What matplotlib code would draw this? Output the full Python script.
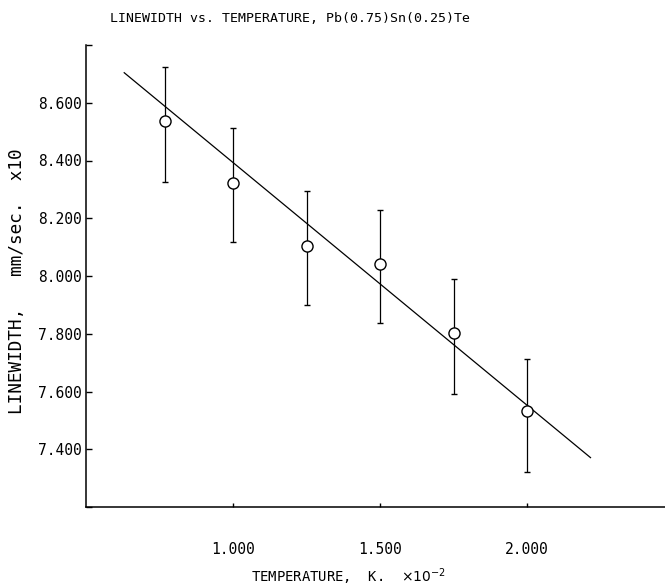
import matplotlib
matplotlib.use("Agg")
import matplotlib.pyplot as plt
import numpy as np

# ---- data ----
temperature = [0.77, 1.00, 1.25, 1.50, 1.75, 2.00]          # K x10^-2
linewidth = [8.538, 8.321, 8.104, 8.041, 7.801, 7.532]      # mm/sec x10
linewidth_top = [8.723, 8.511, 8.294, 8.228, 7.989, 7.712]
linewidth_bot = [8.326, 8.118, 7.899, 7.836, 7.593, 7.322]
fit_x = [0.63, 2.216]
fit_y = [8.704, 7.371]

xtick_vals = [1.0, 1.5, 2.0]
xtick_labels = ["1.000", "1.500", "2.000"]
ytick_vals = [7.2, 7.4, 7.6, 7.8, 8.0, 8.2, 8.4, 8.6, 8.8]
ytick_labels = ["", "7.400", "7.600", "7.800", "8.000", "8.200", "8.400", "8.600", ""]

title = "LINEWIDTH vs. TEMPERATURE, Pb(0.75)Sn(0.25)Te"
xlabel = "TEMPERATURE,  K.  $\\times10^{-2}$"
ylabel = "LINEWIDTH,   mm/sec.  x10"

plt.rcParams['font.family'] = ['DejaVu Sans Mono', 'DejaVu Sans']

W, H = 665, 587
fig = plt.figure(figsize=(W / 100, H / 100), dpi=100)
ax = fig.add_axes([86 / W, 1 - 507 / H, 1 - 86 / W, (507 - 45) / H])

y = np.array(linewidth)
yerr = [y - np.array(linewidth_bot), np.array(linewidth_top) - y]

ax.plot(fit_x, fit_y, color='black', lw=0.9, zorder=2)
ax.errorbar(temperature, linewidth, yerr=yerr, fmt='o', color='black',
            ecolor='black', elinewidth=0.9, capsize=2.0, capthick=0.9,
            markersize=8.0, markerfacecolor='white', markeredgecolor='black',
            markeredgewidth=1.0, zorder=3)

ax.set_xlim(0.5, 0.5 + (W - 86) / 294.0)
ax.set_ylim(7.2, 8.8)

for s in ['top', 'right']:
    ax.spines[s].set_visible(False)
for s in ['left', 'bottom']:
    ax.spines[s].set_linewidth(1.1)

ax.set_xticks(xtick_vals)
ax.set_xticklabels(xtick_labels)
ax.set_yticks(ytick_vals)
ax.set_yticklabels(ytick_labels)
ax.tick_params(axis='x', direction='in', length=3, width=1.0, pad=25, labelsize=10.5)
ax.tick_params(axis='y', direction='in', length=4, width=1.0, pad=3, labelsize=10.5)

fig.text(110 / W, 1 - 19 / H, title, ha='left', va='center', fontsize=9.5)
fig.text(251 / W, 1 - 577 / H, xlabel, ha='left', va='center', fontsize=10)
fig.text(17.5 / W, 1 - 281 / H, ylabel, ha='center', va='center', rotation=90, fontsize=12.7)

fig.savefig("out.png", dpi=100, facecolor='white')
